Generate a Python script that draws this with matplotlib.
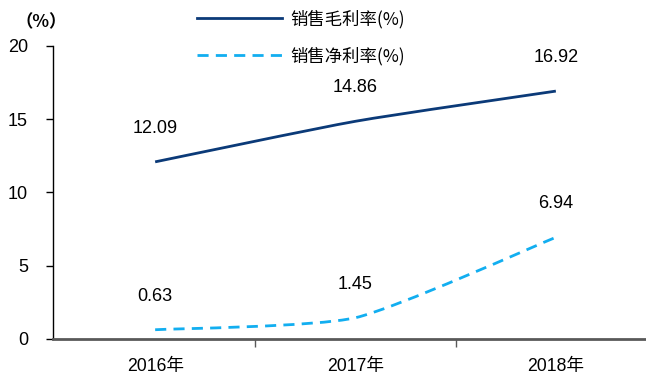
import matplotlib.pyplot as plt
from matplotlib.lines import Line2D
from matplotlib.path import Path
from matplotlib.patches import PathPatch

plt.rcParams['font.family'] = ['Liberation Sans', 'Noto Sans CJK SC', 'DejaVu Sans']

# ── données ──────────────────────────────────────────
annees = ["2016年", "2017年", "2018年"]
marge_brute = [12.09, 14.86, 16.92]
marge_nette = [0.63, 1.45, 6.94]

bleu_fonce = "#0b3a78"
bleu_clair = "#12aef0"
tirets = (0, (4, 2.6))


def courbe_lissee(xs, ys, k=10):
    """Chemin de Bézier passant par les points (lissage léger type tableur)."""
    pts = list(zip(xs, ys))
    verts, codes = [pts[0]], [Path.MOVETO]
    for i in range(len(pts) - 1):
        p0 = pts[i - 1] if i > 0 else pts[i]
        p1, p2 = pts[i], pts[i + 1]
        p3 = pts[i + 2] if i + 2 < len(pts) else pts[i + 1]
        c1 = (p1[0] + (p2[0] - p0[0]) / k, p1[1] + (p2[1] - p0[1]) / k)
        c2 = (p2[0] - (p3[0] - p1[0]) / k, p2[1] - (p3[1] - p1[1]) / k)
        verts += [c1, c2, p2]
        codes += [Path.CURVE4] * 3
    return Path(verts, codes)


fig = plt.figure(figsize=(6.46, 3.8), dpi=100)
ax = fig.add_axes([0.082, 0.108, 0.918, 0.771])

x = list(range(len(annees)))
ax.add_patch(PathPatch(courbe_lissee(x, marge_brute), fill=False,
                       edgecolor=bleu_fonce, lw=2, capstyle="butt"))
ax.add_patch(PathPatch(courbe_lissee(x, marge_nette), fill=False,
                       edgecolor=bleu_clair, lw=2, ls=tirets, capstyle="butt"))

for i in x:
    ax.annotate(f"{marge_brute[i]:.2f}", (i, marge_brute[i]), xytext=(0, 24),
                textcoords="offset points", ha="center", va="center", fontsize=13)
    ax.annotate(f"{marge_nette[i]:.2f}", (i, marge_nette[i]), xytext=(0, 24),
                textcoords="offset points", ha="center", va="center", fontsize=13)

ax.set_xlim(-0.51, 2.45)
ax.set_ylim(0, 20)
ax.set_yticks([0, 5, 10, 15, 20])
ax.set_xticks(x)
ax.set_xticklabels(annees, fontsize=12.7)
ax.set_xticks([0.5, 1.5], minor=True)
ax.tick_params(axis="x", which="major", length=0, pad=14)
ax.tick_params(axis="x", which="minor", length=6, width=1, color="#595959")
ax.tick_params(axis="y", length=5, width=1, labelsize=13, pad=13)

for s in ["top", "right"]:
    ax.spines[s].set_visible(False)
ax.spines["left"].set_linewidth(1)
ax.spines["bottom"].set_color("#595959")
ax.spines["bottom"].set_linewidth(2)

fig.text(0.063, 0.942, "（%）", fontsize=12.5, fontweight="bold", ha="center", va="center",
         family=['Noto Sans CJK SC', 'DejaVu Sans'])

poignees = [Line2D([], [], color=bleu_fonce, lw=2),
            Line2D([], [], color=bleu_clair, lw=2, ls=tirets)]
fig.legend(poignees, ["销售毛利率(%)", "销售净利率(%)"], loc="upper left",
           bbox_to_anchor=(0.28, 1.015), frameon=False,
           handlelength=4.9, handletextpad=0.5, labelspacing=1.05,
           prop={'family': ['Noto Sans CJK SC', 'DejaVu Sans'], 'size': 12.5})

plt.savefig("out.png", dpi=100)
